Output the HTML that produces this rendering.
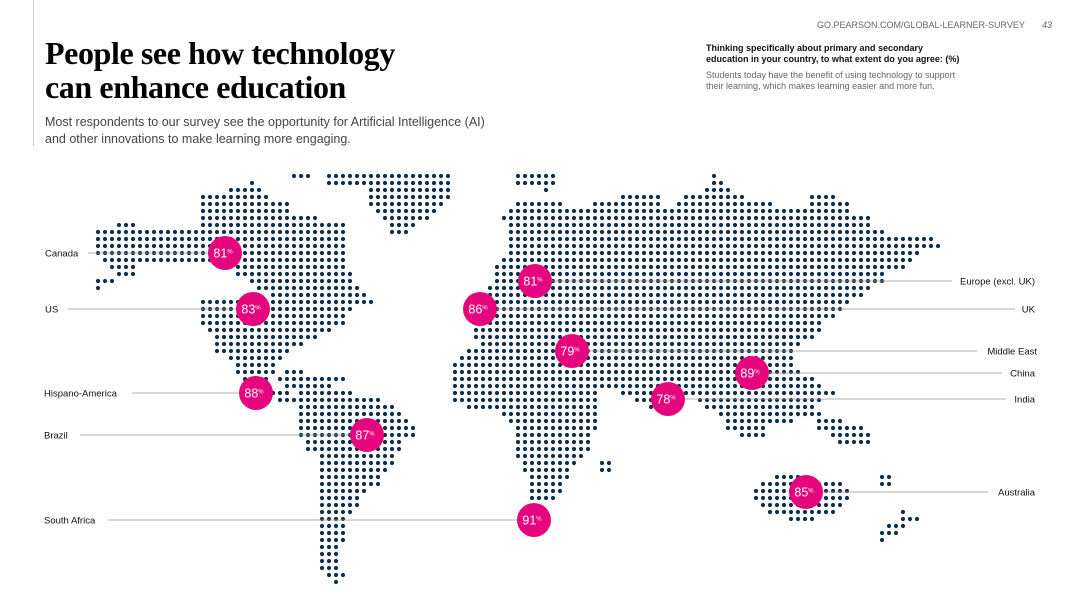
<!DOCTYPE html>
<html><head><meta charset="utf-8"><style>
body{margin:0;width:1080px;height:608px;background:#fff;overflow:hidden;position:relative;font-family:"Liberation Sans",sans-serif}
.t{position:absolute;white-space:nowrap}
</style></head><body>
<div style="position:absolute;left:33px;top:0;width:1px;height:146px;background:#ccc"></div>
<div class="t" style="left:817px;top:20px;font-size:9px;color:#666;letter-spacing:0px">GO.PEARSON.COM/GLOBAL-LEARNER-SURVEY</div>
<div class="t" style="left:1042px;top:20px;font-size:9px;color:#666;font-style:italic">43</div>
<div class="t" style="left:45px;top:36px;font-family:'Liberation Serif',serif;font-weight:bold;font-size:32px;line-height:34px;color:#000;letter-spacing:-0.4px">People see how technology<br>can enhance education</div>
<div class="t" style="left:45px;top:114px;font-size:12.5px;line-height:17px;color:#444">Most respondents to our survey see the opportunity for Artificial Intelligence (AI)<br>and other innovations to make learning more engaging.</div>
<div class="t" style="left:706px;top:43px;font-size:9px;line-height:11px;color:#111;font-weight:bold">Thinking specifically about primary and secondary<br>education in your country, to what extent do you agree: (%)</div>
<div class="t" style="left:706px;top:70px;font-size:9px;line-height:11px;color:#666">Students today have the benefit of using technology to support<br>their learning, which makes learning easier and more fun.</div>
<svg id="m" width="1080" height="608" style="position:absolute;left:0;top:0"></svg>
<script>
var R={176:[[296,310],[331,450],[520,555],[713,713]],183:[[255,255],[331,450],[520,555],[713,720]],190:[[233,262],[373,450],[548,548],[706,727]],197:[[205,269],[373,450],[625,655],[684,740],[815,830]],204:[[205,290],[373,443],[520,562],[597,660],[677,770],[815,850]],211:[[205,290],[380,436],[513,590],[597,850]],218:[[205,318],[387,429],[506,870]],225:[[120,130],[205,340],[395,415],[513,870]],232:[[98,345],[395,405],[513,880]],239:[[98,345],[513,930]],246:[[98,345],[513,940]],253:[[98,345],[513,920]],260:[[105,210],[240,345],[506,910]],267:[[113,135],[240,345],[499,900]],274:[[120,135],[240,350],[499,880]],281:[[98,115],[255,350],[499,880]],288:[[98,98],[262,360],[492,870]],295:[[270,365],[485,860]],302:[[205,370],[478,850]],309:[[205,350],[478,840]],316:[[205,345],[478,835]],323:[[205,340],[478,820]],330:[[212,330],[478,820]],337:[[220,315],[478,810]],344:[[220,300],[485,800]],351:[[220,290],[470,790]],358:[[230,280],[460,790]],365:[[235,275],[455,790]],372:[[240,270],[290,300],[455,800]],379:[[245,265],[280,340],[455,810]],386:[[250,265],[290,330],[455,820]],393:[[265,290],[300,350],[455,595],[625,660],[685,830]],400:[[280,380],[455,595],[640,670],[700,820]],407:[[300,395],[470,595],[650,665],[710,810]],414:[[300,400],[505,595],[720,790],[800,820]],421:[[300,405],[510,595],[730,790],[820,840]],428:[[300,410],[515,595],[730,760],[820,860]],435:[[300,410],[515,590],[740,760],[830,870]],442:[[310,400],[515,585],[840,870]],449:[[310,400],[520,585]],456:[[320,395],[520,580]],463:[[320,390],[525,575],[600,610]],470:[[320,385],[525,570],[600,610]],477:[[320,380],[530,565],[780,800],[880,890]],484:[[320,375],[530,560],[760,840],[880,890]],491:[[320,365],[530,560],[755,845]],498:[[320,360],[535,555],[755,845]],505:[[320,355],[760,840]],512:[[320,350],[770,830],[900,905]],519:[[320,345],[790,810],[900,915]],526:[[320,340],[890,905]],533:[[320,340],[885,895]],540:[[320,340],[885,885]],547:[[320,335]],554:[[320,335]],561:[[320,335]],568:[[325,335]],575:[[330,340]],582:[[338,338]]};
var s='';
for(var y in R){R[y].forEach(function(r){var a=Math.round((r[0]-98)/7),b=Math.round((r[1]-98)/7);for(var i=a;i<=b;i++){s+='<circle cx="'+(98+7*i)+'" cy="'+y+'" r="2.1" fill="#0e2f4f"/>';}});}
var L=[["Canada",45,88,225,253,81,0],["US",45,68,253,309,83,0],["Hispano-America",44,132,256,393,88,0],["Brazil",44,80,367,435,87,0],["South Africa",44,108,534,520,91,0],
["Europe (excl. UK)",1035,952,535,281,81,1],["UK",1035,1015,480,309,86,1],["Middle East",1037,977,572,351,79,1],["China",1035,1002,752,373,89,1],["India",1035,1006,668,399,78,1],["Australia",1035,988,806,492,85,1]];
L.forEach(function(l){
s+='<line x1="'+l[2]+'" y1="'+l[4]+'" x2="'+l[3]+'" y2="'+l[4]+'" stroke="#999" stroke-width="0.8"/>';
s+='<text x="'+l[1]+'" y="'+(l[4]+3.5)+'" font-size="9.5" fill="#111" font-family="Liberation Sans,sans-serif" text-anchor="'+(l[6]?'end':'start')+'">'+l[0]+'</text>';
});
L.forEach(function(l){
s+='<circle cx="'+l[3]+'" cy="'+l[4]+'" r="17" fill="#e5067d"/>';
s+='<text x="'+(l[3]-2)+'" y="'+(l[4]+4.5)+'" font-size="12.5" fill="#fff" font-family="Liberation Sans,sans-serif" text-anchor="middle">'+l[5]+'<tspan font-size="6" dy="-4">%</tspan></text>';
});
document.getElementById('m').innerHTML=s;
</script>
</body></html>
